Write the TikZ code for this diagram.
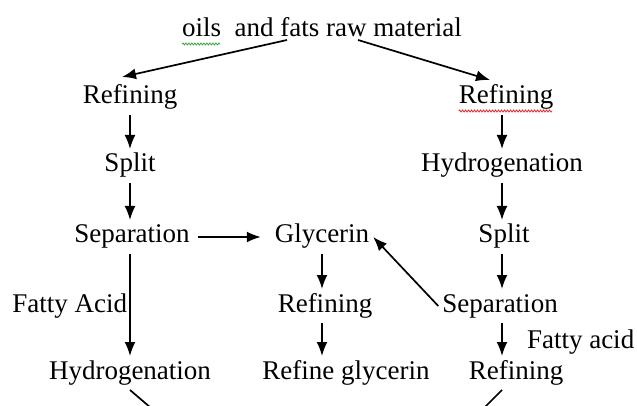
\documentclass[tikz,border=0pt]{standalone}
\usepackage{fontspec}
\setmainfont{Liberation Serif}
\usetikzlibrary{arrows.meta, decorations.pathmorphing}
\definecolor{spellr}{HTML}{e02828}
\definecolor{spellg}{HTML}{38a838}

\begin{document}
\begin{tikzpicture}[x=1pt, y=-1pt, line width=1.7pt,
                    stage/.style={inner sep=0pt, outer sep=4pt, text height=19pt, text depth=7pt,
                                  font=\fontsize{27}{32}\selectfont},
                    flow/.style={-{Latex[length=14pt,width=11pt]}},
                    squiggle/.style={line width=0.8pt, decorate,
                                     decoration={zigzag, segment length=3pt, amplitude=1pt}}]
    \useasboundingbox (0,0) rectangle (637,406);
    \clip (0,0) rectangle (637,406);
    % stages
    \node[stage] (raw) at (322,31) {oils\ \ and fats raw material};
    \node[stage] (refL) at (130,98) {Refining};
    \node[stage] (refR) at (506,98) {Refining};
    \node[stage] (splitL) at (130,166) {Split};
    \node[stage] (hydR) at (502,166) {Hydrogenation};
    \node[stage] (sepL) at (132,237) {Separation};
    \node[stage] (gly) at (322,237) {Glycerin};
    \node[stage] (splitR) at (504,237) {Split};
    \node[stage, anchor=east] (acidL) at (131,306) {Fatty Acid};
    \node[stage] (refM) at (325,306) {Refining};
    \node[stage] (sepR) at (500,306) {Separation};
    \node[stage, anchor=west] (acidR) at (523,342) {Fatty acid};
    \node[stage] (hydL) at (130,373) {Hydrogenation};
    \node[stage] (refgly) at (346,373) {Refine glycerin};
    \node[stage] (refR2) at (516,373) {Refining};
    \coordinate (cutL) at (158,414);
    \coordinate (cutR) at (478,414);
    % flow
    \draw[flow] ([xshift=-35pt,yshift=8pt]raw.south) -- ([xshift=-8pt,yshift=4pt]refL.north);
    \draw[flow] ([xshift=36pt,yshift=8pt]raw.south) -- ([xshift=-16pt,yshift=1pt]refR.north);
    \draw[flow] (refL) -- (splitL);
    \draw[flow] (splitL.south) -- (splitL.south |- sepL.north);
    \draw[flow] (hydL.north |- sepL.south) -- (hydL.north);
    \draw[flow, shorten <=4pt, shorten >=10pt] (sepL.east) -- (gly.west);
    \draw[flow] (gly.south) -- (gly.south |- refM.north);
    \draw[flow] (gly.south |- refM.south) -- (gly.south |- refgly.north);
    \draw[flow] (hydR.north |- refR.south) -- (hydR.north);
    \draw[flow] (hydR.south) -- (hydR.south |- splitR.north);
    \draw[flow] (splitR.south -| hydR) -- (sepR.north -| hydR);
    \draw[flow] (sepR.west) -- (gly.east);
    \draw[flow] (sepR.south -| hydR) -- (refR2.north -| hydR);
    \draw (hydL.south) -- (cutL);
    \draw (refR2.south -| hydR) -- (cutR);
    % spell marks
    \draw[squiggle, spellg] ([xshift=4pt,yshift=4pt]raw.south west) -- ++(38,0);
    \draw[squiggle, spellr] ([xshift=4pt,yshift=4pt]refR.south west) -- ++(93,0);
\end{tikzpicture}
\end{document}
